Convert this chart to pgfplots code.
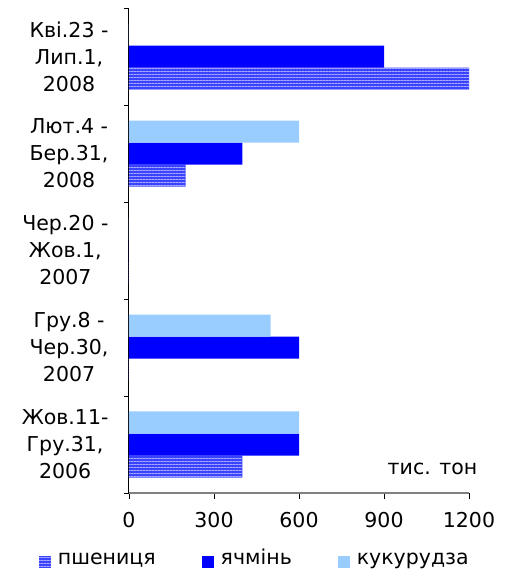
\documentclass[border=0pt]{standalone}
\usepackage{fontspec}
\setmainfont{DejaVu Sans}
\usepackage{pgfplots}
\pgfplotsset{compat=1.18}
\usetikzlibrary{patterns.meta}
\definecolor{wheatc}{HTML}{3A44FF}
\definecolor{wheatl}{HTML}{A8AAFF}
\definecolor{barleyc}{HTML}{0000FF}
\definecolor{cornc}{HTML}{99CCFF}
\definecolor{axgray}{HTML}{808080}
\begin{document}
\begin{tikzpicture}
\path[use as bounding box] (0pt,0pt) rectangle (511pt,573pt);
\begin{axis}[
  at={(129pt,80pt)}, anchor=south west,
  scale only axis, width=340pt, height=485pt,
  xbar, bar width=22pt,
  xmin=0, xmax=1200, ymin=-0.5, ymax=4.5,
  xtick={0,300,600,900,1200},
  ytick={0,1,2,3,4},
  yticklabels={{Жов.11-\\Гру.31,\\2006},{Гру.8 -\\Чер.30,\\2007},{Чер.20 -\\Жов.1,\\2007},{Лют.4 -\\Бер.31,\\2008},{Кві.23 -\\Лип.1,\\2008}},
  axis x line*=bottom, axis y line*=left,
  x axis line style={draw=axgray, line width=1.2pt, -},
  y axis line style={draw=black, line width=1pt, -},
  tick align=outside,
  xtick style={draw=black, line width=0.8pt},
  major tick length=6pt,
  ytick style={draw=none},
  extra y ticks={-0.5,0.5,1.5,2.5,3.5,4.5},
  extra y tick labels={},
  extra y tick style={ytick style={draw=black, line width=0.8pt}, major tick length=5pt},
  /pgf/number format/assume math mode=true,
  /pgf/number format/1000 sep={},
  tick label style={font=\fontsize{20.5}{27}\selectfont},
  yticklabel style={align=center, xshift=-11pt},
  xticklabel style={yshift=-10pt},
  legend columns=3,
  legend style={draw=none, at={(axis description cs:0.37,-0.142)}, anchor=center,
    font=\fontsize{20.5}{22}\selectfont,
    nodes={text height=0.75em, text depth=0.25em},
    /tikz/every odd column/.append style={column sep=5pt},
    /tikz/every even column/.append style={column sep=44pt}},
  legend image code/.code={\path[#1, draw=none] (0pt,-6pt) rectangle (12pt,6pt);},
  clip=false,
]
\addplot[bar shift=-22pt, draw=none, fill=wheatc,
  postaction={pattern={Lines[angle=0,distance=3pt,line width=1pt]}, pattern color=wheatl}]
  coordinates {(400,0) (0,1) (0,2) (200,3) (1200,4)};
\addlegendentry{пшениця}
\addplot[bar shift=0pt, draw=none, fill=barleyc]
  coordinates {(600,0) (600,1) (0,2) (400,3) (900,4)};
\addlegendentry{ячмінь}
\addplot[bar shift=22pt, draw=none, fill=cornc]
  coordinates {(600,0) (500,1) (0,2) (600,3) (0,4)};
\addlegendentry{кукурудза}
\node[anchor=east, font=\fontsize{20.5}{22}\selectfont] at (axis description cs:1.035,0.05) {тис. тон};
\end{axis}
\end{tikzpicture}
\end{document}
